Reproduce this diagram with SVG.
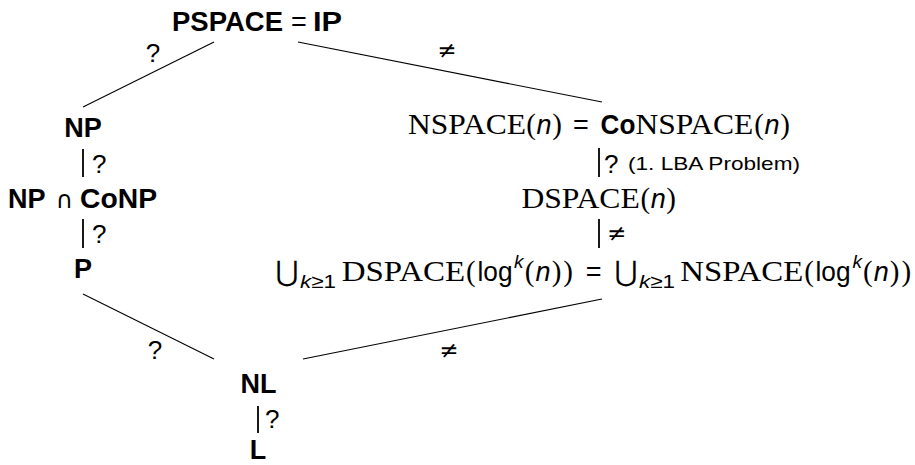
<svg xmlns="http://www.w3.org/2000/svg" width="915" height="465" viewBox="0 0 915 465">
<style>
.b{font-family:"Liberation Sans",Arial,sans-serif;font-weight:bold;font-size:27px;fill:#000}
.s{font-family:"Liberation Sans",Arial,sans-serif;font-size:27px;fill:#000}
.r{font-family:"Liberation Serif","Times New Roman",serif;font-size:29px;fill:#000}
.i{font-family:"Liberation Sans",Arial,sans-serif;font-style:italic;font-size:27px;fill:#000}
.si{font-family:"Liberation Sans",Arial,sans-serif;font-style:italic;font-size:19px;fill:#000}
.ss{font-family:"Liberation Sans",Arial,sans-serif;font-style:normal;font-size:19px;fill:#000}
.m{font-family:"DejaVu Sans",sans-serif;fill:#000}
.lab{font-family:"Liberation Sans",Arial,sans-serif;font-size:26px;fill:#000}
.ne{font-family:"DejaVu Sans",sans-serif;font-size:23px;fill:#000}
.d{stroke:#000;stroke-width:1.1;fill:none}
.v{stroke:#000;stroke-width:1.8;fill:none}
</style>
<g id="connectors">
<line class="d" x1="214" y1="42" x2="83" y2="107"/>
<line class="d" x1="298" y1="42" x2="602" y2="102"/>
<line class="v" x1="83" y1="149" x2="83" y2="177"/>
<line class="v" x1="83" y1="219" x2="83" y2="248"/>
<line class="d" x1="83" y1="294" x2="214" y2="359"/>
<line class="d" x1="303" y1="359" x2="602" y2="299"/>
<line class="v" x1="599" y1="148" x2="599" y2="177"/>
<line class="v" x1="599" y1="219" x2="599" y2="248"/>
<line class="v" x1="258" y1="406" x2="258" y2="433"/>
<text class="lab" x="153" y="62" text-anchor="middle">?</text>
<text class="ne" x="447" y="58" text-anchor="middle">≠</text>
<text class="lab" x="92" y="173">?</text>
<text class="lab" x="92" y="243">?</text>
<text class="lab" x="155" y="359" text-anchor="middle">?</text>
<text class="ne" x="449" y="358" text-anchor="middle">≠</text>
<text class="lab" x="604" y="173">?</text>
<text class="ss" x="628" y="170" font-size="20" textLength="172" lengthAdjust="spacingAndGlyphs">(1. LBA Problem)</text>
<text class="ne" x="607" y="241">≠</text>
<text class="lab" x="265" y="428">?</text>
</g>
<g id="pspace">
<text class="b" x="172" y="31" textLength="111" lengthAdjust="spacingAndGlyphs">PSPACE</text>
<text class="s" x="299" y="31" text-anchor="middle">=</text>
<text class="b" x="313" y="31" textLength="29" lengthAdjust="spacingAndGlyphs">IP</text>
</g>
<g id="np">
<text class="b" x="83" y="137" text-anchor="middle">NP</text>
</g>
<g id="npconp">
<text class="b" x="8" y="208" textLength="37.5" lengthAdjust="spacingAndGlyphs">NP</text>
<text class="m" x="64.5" y="208" font-size="24" text-anchor="middle">∩</text>
<text class="b" x="80" y="208" textLength="77" lengthAdjust="spacingAndGlyphs">CoNP</text>
</g>
<g id="p">
<text class="b" x="83" y="278" text-anchor="middle">P</text>
</g>
<g id="nl">
<text class="b" x="258.5" y="393" text-anchor="middle">NL</text>
</g>
<g id="l">
<text class="b" x="258" y="459" text-anchor="middle">L</text>
</g>
<g id="nspace">
<text class="r" x="408" y="134" textLength="118" lengthAdjust="spacingAndGlyphs">NSPACE</text>
<text class="r" x="531" y="134" text-anchor="middle">(</text>
<text class="i" x="544" y="134" text-anchor="middle">n</text>
<text class="r" x="557" y="134" text-anchor="middle">)</text>
<text class="s" x="581" y="134" text-anchor="middle">=</text>
<text class="b" x="600.6" y="134" textLength="34.8" lengthAdjust="spacingAndGlyphs">Co</text>
<text class="r" x="635.4" y="134" textLength="118" lengthAdjust="spacingAndGlyphs">NSPACE</text>
<text class="r" x="759" y="134" text-anchor="middle">(</text>
<text class="i" x="772" y="134" text-anchor="middle">n</text>
<text class="r" x="785" y="134" text-anchor="middle">)</text>
</g>
<g id="dspace">
<text class="r" x="521.4" y="208" textLength="118.4" lengthAdjust="spacingAndGlyphs">DSPACE</text>
<text class="r" x="645.3" y="208" text-anchor="middle">(</text>
<text class="i" x="658.2" y="208" text-anchor="middle">n</text>
<text class="r" x="671.1" y="208" text-anchor="middle">)</text>
</g>
<g id="union">
<text class="m" x="287" y="281" font-size="28" text-anchor="middle">⋃</text>
<text class="si" x="300" y="288" textLength="36" lengthAdjust="spacingAndGlyphs">k<tspan class="ss">≥1</tspan></text>
<text class="r" x="341.7" y="281" textLength="123.4" lengthAdjust="spacingAndGlyphs">DSPACE</text>
<text class="r" x="470.9" y="281" text-anchor="middle">(</text>
<text class="s" x="477.5" y="281" textLength="35" lengthAdjust="spacingAndGlyphs">log</text>
<text class="si" x="514" y="268">k</text>
<text class="r" x="529.7" y="281" text-anchor="middle">(</text>
<text class="i" x="543.1" y="281" text-anchor="middle">n</text>
<text class="r" x="556.6" y="281" text-anchor="middle">)</text>
<text class="r" x="568.2" y="281" text-anchor="middle">)</text>
<text class="s" x="593.7" y="281" text-anchor="middle">=</text>
<text class="m" x="626" y="281" font-size="28" text-anchor="middle">⋃</text>
<text class="si" x="639" y="288" textLength="36" lengthAdjust="spacingAndGlyphs">k<tspan class="ss">≥1</tspan></text>
<text class="r" x="680.3" y="281" textLength="123" lengthAdjust="spacingAndGlyphs">NSPACE</text>
<text class="r" x="809.1" y="281" text-anchor="middle">(</text>
<text class="s" x="815.5" y="281" textLength="35" lengthAdjust="spacingAndGlyphs">log</text>
<text class="si" x="852.5" y="268">k</text>
<text class="r" x="867.9" y="281" text-anchor="middle">(</text>
<text class="i" x="881.3" y="281" text-anchor="middle">n</text>
<text class="r" x="894.7" y="281" text-anchor="middle">)</text>
<text class="r" x="906.3" y="281" text-anchor="middle">)</text>
</g>
</svg>
